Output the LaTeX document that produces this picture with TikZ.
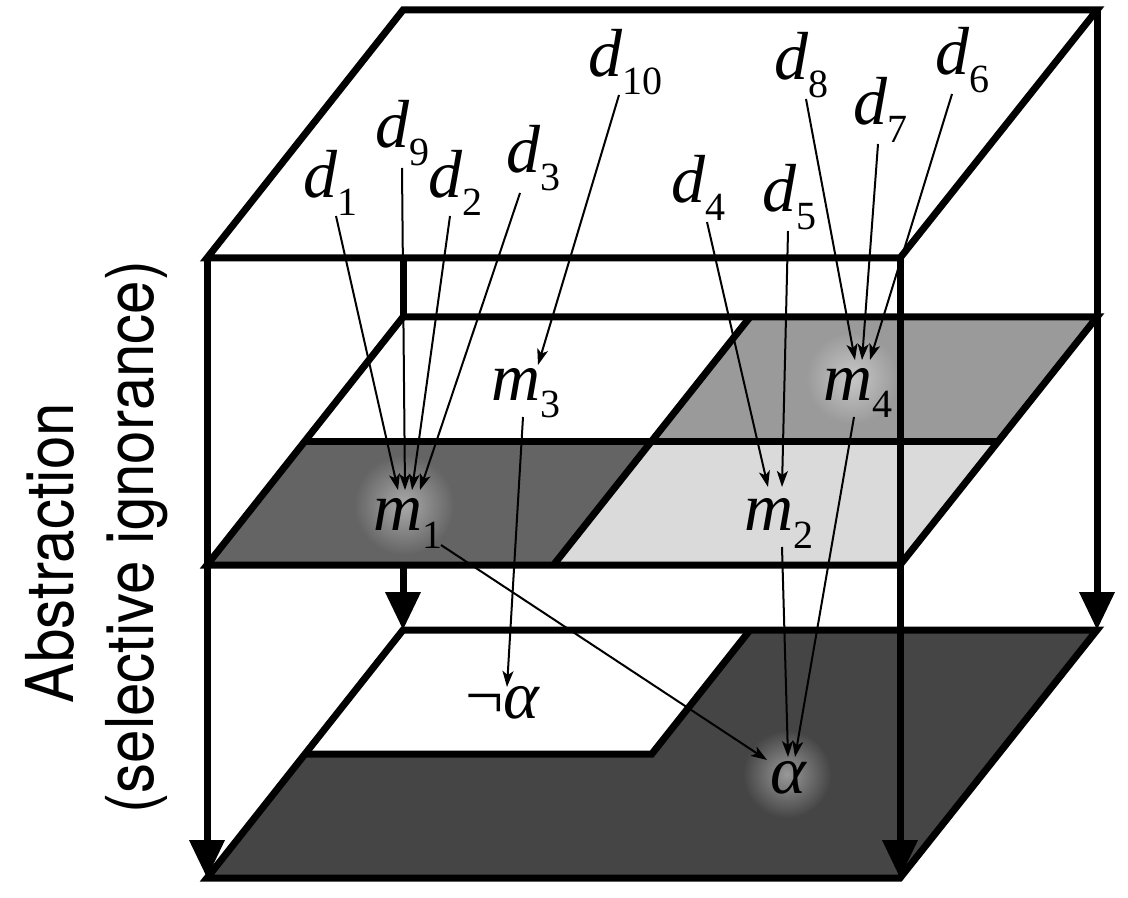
\documentclass[tikz,border=0pt]{standalone}
\usepackage{fontspec}
\setmainfont{Liberation Serif}
\newfontfamily\heros[FakeStretch=0.91]{TeX Gyre Heros}
\usetikzlibrary{arrows.meta,calc}
\definecolor{gA}{HTML}{646464}
\definecolor{gB}{HTML}{9A9A9A}
\definecolor{gC}{HTML}{DADADA}
\definecolor{gD}{HTML}{454545}
\newcommand\lbl[2]{\textit{#1}\raisebox{-9pt}{\fontsize{20}{20}\selectfont #2}}
\begin{document}
\begin{tikzpicture}[x=0.5pt,y=-0.5pt,
  edge/.style={line width=3.5pt, line join=miter},
  bigarrow/.style={line width=3.5pt, -{Triangle[length=19pt,width=17pt]}},
  ar/.style={line width=1pt, -{Stealth[length=8pt,width=5.5pt,inset=2pt]}},
  lab/.style={inner sep=0pt, anchor=base west, font=\fontsize{34}{34}\selectfont},
  side/.style={rotate=90, anchor=base, inner sep=0pt, font=\heros\fontsize{33}{33}\selectfont}]
\useasboundingbox (0,0) rectangle (1128,898);
% corners
\coordinate (tA) at (403,10);  \coordinate (tB) at (1097,10);
\coordinate (tC) at (900,258); \coordinate (tD) at (207,258);
\coordinate (sA) at (403,317); \coordinate (sB) at (1097,317);
\coordinate (sC) at (900,565); \coordinate (sD) at (207,565);
\coordinate (sL) at (305,441); \coordinate (sR) at (998.5,441);
\coordinate (sT) at (750,317); \coordinate (sM) at (651.75,441);
\coordinate (sS) at (553.5,565);
\coordinate (bA) at (403,630); \coordinate (bB) at (1097,630);
\coordinate (bC) at (900,878); \coordinate (bD) at (207,878);
\coordinate (bL) at (305,754); \coordinate (bT) at (750,630);
\coordinate (bM) at (651.75,754);
% back-left vertical (hidden behind planes)
\draw[bigarrow] (tA) -- (bA);
% bottom plane
\fill[gD] (bA) -- (bB) -- (bC) -- (bD) -- cycle;
\fill[white] (bA) -- (bT) -- (bM) -- (bL) -- cycle;
\begin{scope}
  \clip (bT) -- (bB) -- (bC) -- (bD) -- (bL) -- (bM) -- cycle;
  \shade[inner color=gD!55!white, outer color=gD] (787,774) circle (44);
\end{scope}
\draw[edge] (bA) -- (bB) -- (bC) -- (bD) -- cycle;
\draw[edge] (bT) -- (bM) -- (bL);
% middle slab
\fill[white] (sA) -- (sT) -- (sM) -- (sL) -- cycle;
\fill[gB] (sT) -- (sB) -- (sR) -- (sM) -- cycle;
\fill[gA] (sL) -- (sM) -- (sS) -- (sD) -- cycle;
\fill[gC] (sM) -- (sR) -- (sC) -- (sS) -- cycle;
\begin{scope}
  \clip (sT) -- (sB) -- (sR) -- (sM) -- cycle;
  \shade[inner color=gB!55!white, outer color=gB] (852,378) circle (46);
\end{scope}
\begin{scope}
  \clip (sL) -- (sM) -- (sS) -- (sD) -- cycle;
  \shade[inner color=gA!55!white, outer color=gA] (404,505) circle (50);
\end{scope}
\draw[edge] (sA) -- (sB) -- (sC) -- (sD) -- cycle;
\draw[edge] (sL) -- (sR);
\draw[edge] (sT) -- (sS);
% top plane
\fill[white] (tA) -- (tB) -- (tC) -- (tD) -- cycle;
\draw[edge] (tA) -- (tB) -- (tC) -- (tD) -- cycle;
% front and back-right verticals
\draw[bigarrow] (tD) -- (bD);
\draw[bigarrow] (tC) -- (bC);
\draw[bigarrow] (tB) -- (bB);
% side text
\node[side] (abs1) at (73,553) {Abstraction};
\node[side] (abs2) at (153,537) {(selective ignorance)};
% labels
\node[lab] (d1) at (303,198) {\lbl{d}{1}};
\node[lab] (d9) at (375,148) {\lbl{d}{9}};
\node[lab] (d2) at (428,198) {\lbl{d}{2}};
\node[lab] (d3) at (506,173) {\lbl{d}{3}};
\node[lab] (d10) at (588,77) {\lbl{d}{10}};
\node[lab] (d4) at (671,203) {\lbl{d}{4}};
\node[lab] (d5) at (762,212) {\lbl{d}{5}};
\node[lab] (d8) at (774,80) {\lbl{d}{8}};
\node[lab] (d7) at (853,125) {\lbl{d}{7}};
\node[lab] (d6) at (935,75) {\lbl{d}{6}};
\node[lab] (m3) at (491,400) {\lbl{m}{3}};
\node[lab] (m4) at (823,400) {\lbl{m}{4}};
\node[lab] (m1) at (373,530) {\lbl{m}{1}};
\node[lab] (m2) at (744,530) {\lbl{m}{2}};
\node[lab] (na) at (465,718) {¬\textit{α}};
\node[lab] (al) at (770,793) {\textit{α}};
% arrows
\draw[ar] ($(d1.base west)+(33,18)$) -- ($(m1.base west)+(25,-40)$);
\draw[ar] ($(d9.base west)+(27,20)$) -- ($(m1.base west)+(32,-40)$);
\draw[ar] ($(d2.base west)+(22,18)$) -- ($(m1.base west)+(39,-40)$);
\draw[ar] ($(d3.base west)+(14,20)$) -- ($(m1.base west)+(47,-40)$);
\draw[ar] ($(d10.base west)+(31,18)$) -- ($(m3.base west)+(47,-35)$);
\draw[ar] ($(d4.base west)+(36,19)$) -- ($(m2.base west)+(24,-43)$);
\draw[ar] ($(d5.base west)+(26,19)$) -- ($(m2.base west)+(38,-43)$);
\draw[ar] ($(d8.base west)+(32,19)$) -- ($(m4.base west)+(32,-40)$);
\draw[ar] ($(d7.base west)+(25,19)$) -- ($(m4.base west)+(39,-40)$);
\draw[ar] ($(d6.base west)+(17,19)$) -- ($(m4.base west)+(47,-40)$);
\draw[ar] ($(m3.base west)+(32,17)$) -- ($(na.base west)+(42,-31)$);
\draw[ar] ($(m1.base west)+(68,15)$) -- ($(al.base west)+(-3,-33)$);
\draw[ar] ($(m2.base west)+(38,17)$) -- ($(al.base west)+(18,-36)$);
\draw[ar] ($(m4.base west)+(31,17)$) -- ($(al.base west)+(25,-36)$);
\end{tikzpicture}
\end{document}
